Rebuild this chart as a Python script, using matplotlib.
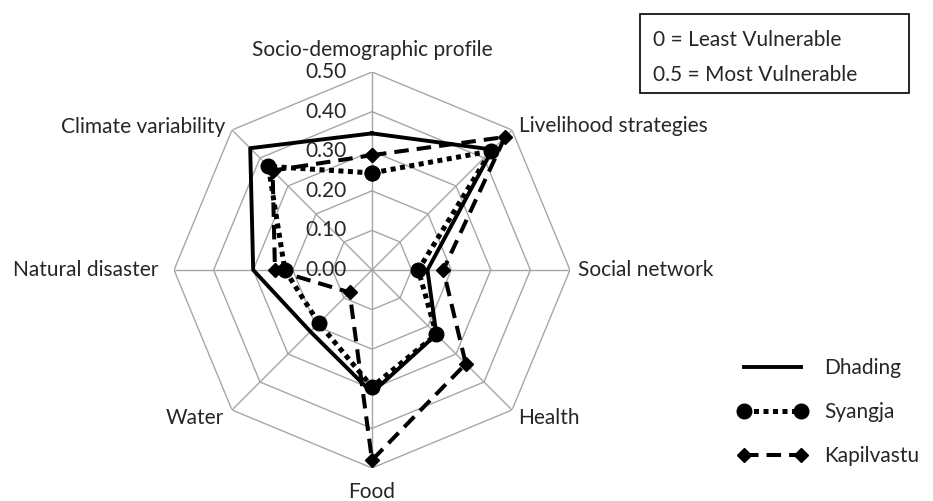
import numpy as np
import matplotlib
matplotlib.use("Agg")
import matplotlib.pyplot as plt
from matplotlib.patches import Rectangle

plt.rcParams['font.family'] = ['Lato', 'DejaVu Sans']

categories = ['Socio-demographic profile', 'Livelihood strategies', 'Social network',
              'Health', 'Food', 'Water', 'Natural disaster', 'Climate variability']
dhading = [0.345, 0.43, 0.14, 0.23, 0.31, 0.22, 0.30, 0.435]
syangja = [0.245, 0.425, 0.117, 0.23, 0.295, 0.19, 0.22, 0.37]
kapilvastu = [0.29, 0.475, 0.18, 0.335, 0.48, 0.08, 0.245, 0.355]
levels = [0.0, 0.1, 0.2, 0.3, 0.4, 0.5]
level_labels = ['0.00', '0.10', '0.20', '0.30', '0.40', '0.50']

W, H = 933, 501
fig = plt.figure(figsize=(W / 100, H / 100), dpi=100)
ax = fig.add_axes([174 / W, 33 / H, 396 / W, 396 / H], projection='polar')
ax.set_theta_zero_location('N')
ax.set_theta_direction(-1)
ax.set_ylim(0, 0.5)
ax.grid(False)
ax.set_xticks([])
ax.set_yticks([])
ax.spines['polar'].set_visible(False)
ax.patch.set_visible(False)

n = len(categories)
angles = np.linspace(0, 2 * np.pi, n, endpoint=False)
closed = np.append(angles, angles[0])

# octagon grid + spokes
grid_col = '#a6a6a6'
for r in levels[1:]:
    ax.plot(closed, [r] * (n + 1), color=grid_col, lw=1.0, zorder=1)
for a in angles:
    ax.plot([a, a], [0, 0.5], color=grid_col, lw=1.0, zorder=1)


def close(v):
    return list(v) + [v[0]]


ax.plot(closed, close(dhading), color='black', lw=2.8, ls='-', zorder=3,
        label='Dhading', clip_on=False)
ax.plot(closed, close(syangja), color='black', lw=3.6, ls=(0, (1, 0.9)),
        dash_capstyle='butt', marker='o', markersize=10.5, zorder=4,
        label='Syangja', clip_on=False)
ax.plot(closed, close(kapilvastu), color='black', lw=2.9, ls=(0, (3.6, 2.0)),
        marker='D', markersize=7, zorder=5, label='Kapilvastu', clip_on=False)

# radial value labels
for r, t in zip(levels, level_labels):
    ax.annotate(t, xy=(0, r), xytext=(-25, 0), textcoords='offset pixels',
                ha='right', va='center', fontsize=15, color='#262626', zorder=6)

# category labels
offsets = [(0, 22, 'center'), (7, 4, 'left'), (8, 0, 'left'), (6, -8, 'left'),
           (0, -24, 'center'), (-8, -8, 'right'), (-16, 0, 'right'), (-7, 3, 'right')]
for a, lab, (dx, dy, ha) in zip(angles, categories, offsets):
    ax.annotate(lab, xy=(a, 0.5), xytext=(dx, dy), textcoords='offset pixels',
                ha=ha, va='center', fontsize=15, color='#262626',
                annotation_clip=False)

# note box
fig.patches.append(Rectangle((640 / W, 1 - 93 / H), 269 / W, 79 / H,
                             transform=fig.transFigure, fill=False,
                             edgecolor='black', lw=1.2))
fig.text(653 / W, 1 - 40 / H, '0 = Least Vulnerable', fontsize=15,
         va='center', ha='left', color='#262626')
fig.text(653 / W, 1 - 75 / H, '0.5 = Most Vulnerable', fontsize=15,
         va='center', ha='left', color='#262626')

handles, labels = ax.get_legend_handles_labels()
fig.legend(handles, labels, loc='center left', bbox_to_anchor=(738 / W, 1 - 412 / H),
           frameon=False, numpoints=2, handlelength=3.3, handletextpad=0.85,
           labelspacing=1.15, fontsize=15, borderpad=0, borderaxespad=0,
           labelcolor='#262626')

fig.savefig('out.png', dpi=100)
